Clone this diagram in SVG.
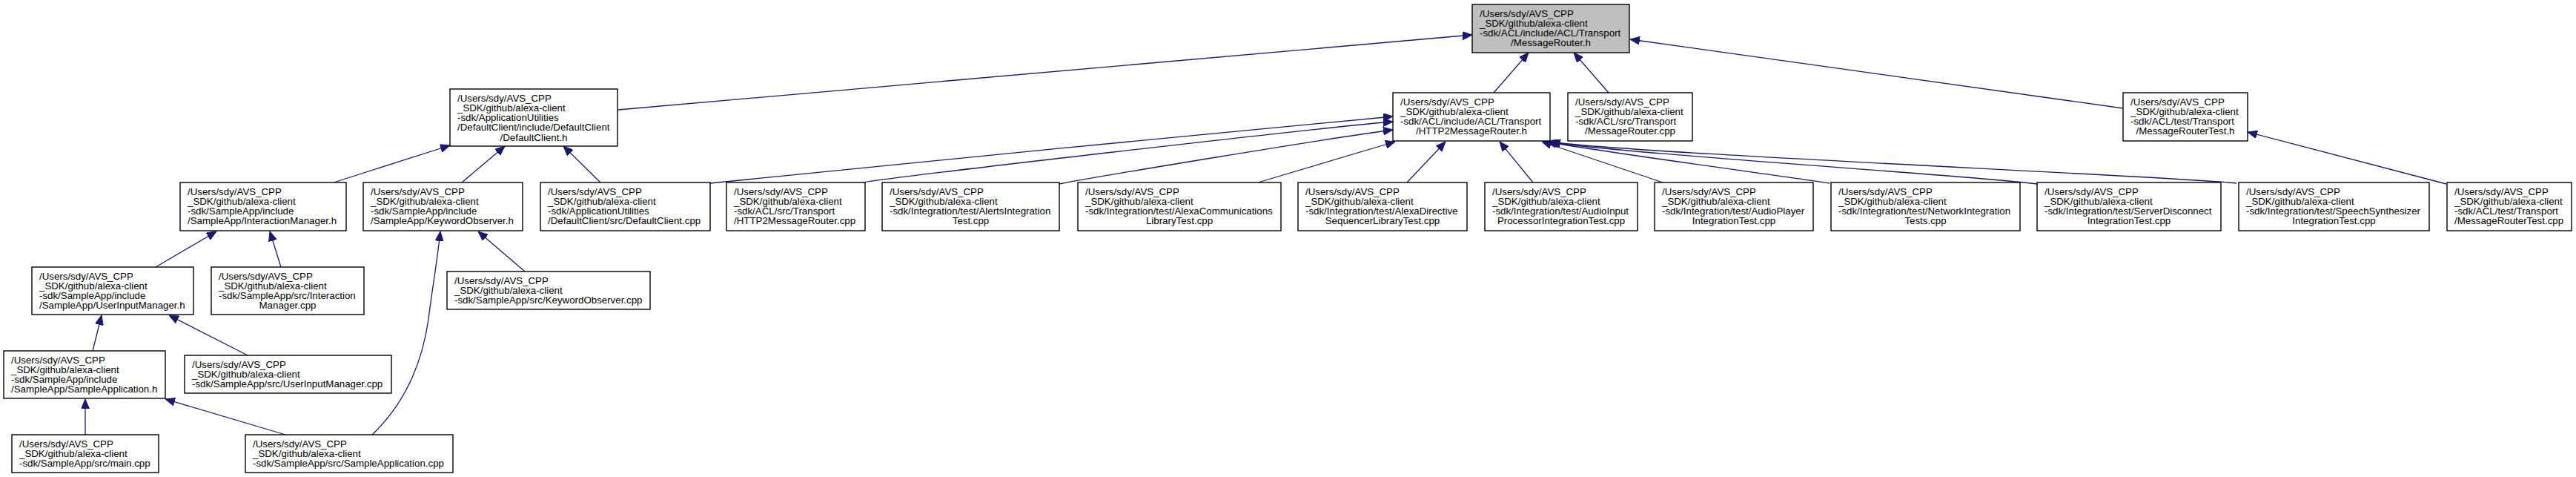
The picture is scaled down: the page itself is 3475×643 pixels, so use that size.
<svg xmlns="http://www.w3.org/2000/svg" width="3475" height="643" viewBox="0 0 3475 643">
<style>
  .box{fill:#ffffff;stroke:#000000;stroke-width:1.4}
  .root{fill:#bfbfbf;stroke:#000000;stroke-width:1.4}
  text{font-family:"Liberation Sans",Arial,Helvetica,sans-serif;font-size:13.3px;fill:#000000}
  .c{text-anchor:middle}
  .e{fill:none;stroke:#191970;stroke-width:1.3;marker-end:url(#ah)}
</style>
<defs>
  <marker id="ah" viewBox="0 0 13 11" refX="13" refY="5.5" markerWidth="13" markerHeight="11" markerUnits="userSpaceOnUse" orient="auto">
    <path d="M0,0 L13,5.5 L0,11 z" fill="#191970" stroke="#191970" stroke-width="1"/>
  </marker>
</defs>
<rect width="3475" height="643" fill="#ffffff"/>

<g id="edges">
  <path class="e" d="M834,148 L1986,47"/>
  <path class="e" d="M2015,125 L2062,71"/>
  <path class="e" d="M2170,125 L2123,71"/>
  <path class="e" d="M2864,146 L2199,53"/>
  <path class="e" d="M3300,248 L3032,178"/>
  <path class="e" d="M450,246 L607,196"/>
  <path class="e" d="M623,246 L681,197"/>
  <path class="e" d="M810,246 L760,197"/>
  <path class="e" d="M958,247 C1000,241 1780,166 1879,157"/>
  <path class="e" d="M1164,246 C1210,238 1780,172 1879,164"/>
  <path class="e" d="M1429,248 C1480,238 1800,185 1879,175"/>
  <path class="e" d="M1697,246 L1882,191"/>
  <path class="e" d="M1898,246 L1950,191"/>
  <path class="e" d="M2068,246 L2023,191"/>
  <path class="e" d="M2243,246 L2080,191"/>
  <path class="e" d="M2468,247 C2420,239 2160,205 2086,191"/>
  <path class="e" d="M2748,248 C2680,238 2170,206 2089,191"/>
  <path class="e" d="M3017,247 C2940,238 2180,206 2092,191"/>
  <path class="e" d="M210,360 L292,312"/>
  <path class="e" d="M379,360 L364,312"/>
  <path class="e" d="M708,366 L645,312"/>
  <path class="e" d="M502,586 C548,542 570,487 578,430 C583,390 590,350 594,312"/>
  <path class="e" d="M125,473 L137,425"/>
  <path class="e" d="M334,479 L228,425"/>
  <path class="e" d="M115,586 L115,538"/>
  <path class="e" d="M385,586 L223,538"/>
</g>

<g id="n0">
  <rect class="root" x="1986" y="6" width="212" height="65"/>
  <text><tspan x="1996" y="22.5">/Users/sdy/AVS_CPP</tspan><tspan x="1996" y="35.8">_SDK/github/alexa-client</tspan><tspan x="1996" y="49.1">-sdk/ACL/include/ACL/Transport</tspan><tspan class="c" x="2092" y="62.4">/MessageRouter.h</tspan></text>
</g>
<g id="n1">
  <rect class="box" x="607" y="120" width="226" height="77"/>
  <text><tspan x="617" y="136.5">/Users/sdy/AVS_CPP</tspan><tspan x="617" y="149.8">_SDK/github/alexa-client</tspan><tspan x="617" y="163.1">-sdk/ApplicationUtilities</tspan><tspan x="617" y="176.4">/DefaultClient/include/DefaultClient</tspan><tspan class="c" x="720" y="189.7">/DefaultClient.h</tspan></text>
</g>
<g id="n2">
  <rect class="box" x="1879" y="125" width="212" height="65"/>
  <text><tspan x="1889" y="141.5">/Users/sdy/AVS_CPP</tspan><tspan x="1889" y="154.8">_SDK/github/alexa-client</tspan><tspan x="1889" y="168.1">-sdk/ACL/include/ACL/Transport</tspan><tspan class="c" x="1985" y="181.4">/HTTP2MessageRouter.h</tspan></text>
</g>
<g id="n3">
  <rect class="box" x="2115" y="125" width="168" height="65"/>
  <text><tspan x="2125" y="141.5">/Users/sdy/AVS_CPP</tspan><tspan x="2125" y="154.8">_SDK/github/alexa-client</tspan><tspan x="2125" y="168.1">-sdk/ACL/src/Transport</tspan><tspan class="c" x="2199" y="181.4">/MessageRouter.cpp</tspan></text>
</g>
<g id="n4">
  <rect class="box" x="2864" y="125" width="168" height="65"/>
  <text><tspan x="2874" y="141.5">/Users/sdy/AVS_CPP</tspan><tspan x="2874" y="154.8">_SDK/github/alexa-client</tspan><tspan x="2874" y="168.1">-sdk/ACL/test/Transport</tspan><tspan class="c" x="2948" y="181.4">/MessageRouterTest.h</tspan></text>
</g>

<g id="n5">
  <rect class="box" x="243" y="246" width="224" height="65"/>
  <text><tspan x="253" y="262.5">/Users/sdy/AVS_CPP</tspan><tspan x="253" y="275.8">_SDK/github/alexa-client</tspan><tspan x="253" y="289.1">-sdk/SampleApp/include</tspan><tspan x="253" y="302.4">/SampleApp/InteractionManager.h</tspan></text>
</g>
<g id="n6">
  <rect class="box" x="490" y="246" width="215" height="65"/>
  <text><tspan x="500" y="262.5">/Users/sdy/AVS_CPP</tspan><tspan x="500" y="275.8">_SDK/github/alexa-client</tspan><tspan x="500" y="289.1">-sdk/SampleApp/include</tspan><tspan x="500" y="302.4">/SampleApp/KeywordObserver.h</tspan></text>
</g>
<g id="n7">
  <rect class="box" x="729" y="246" width="229" height="65"/>
  <text><tspan x="739" y="262.5">/Users/sdy/AVS_CPP</tspan><tspan x="739" y="275.8">_SDK/github/alexa-client</tspan><tspan x="739" y="289.1">-sdk/ApplicationUtilities</tspan><tspan x="739" y="302.4">/DefaultClient/src/DefaultClient.cpp</tspan></text>
</g>
<g id="n8">
  <rect class="box" x="980" y="246" width="187" height="65"/>
  <text><tspan x="990" y="262.5">/Users/sdy/AVS_CPP</tspan><tspan x="990" y="275.8">_SDK/github/alexa-client</tspan><tspan x="990" y="289.1">-sdk/ACL/src/Transport</tspan><tspan x="990" y="302.4">/HTTP2MessageRouter.cpp</tspan></text>
</g>
<g id="n9">
  <rect class="box" x="1190" y="246" width="239" height="65"/>
  <text><tspan x="1200" y="262.5">/Users/sdy/AVS_CPP</tspan><tspan x="1200" y="275.8">_SDK/github/alexa-client</tspan><tspan x="1200" y="289.1">-sdk/Integration/test/AlertsIntegration</tspan><tspan class="c" x="1309.5" y="302.4">Test.cpp</tspan></text>
</g>
<g id="n10">
  <rect class="box" x="1454" y="246" width="274" height="65"/>
  <text><tspan x="1464" y="262.5">/Users/sdy/AVS_CPP</tspan><tspan x="1464" y="275.8">_SDK/github/alexa-client</tspan><tspan x="1464" y="289.1">-sdk/Integration/test/AlexaCommunications</tspan><tspan class="c" x="1591" y="302.4">LibraryTest.cpp</tspan></text>
</g>
<g id="n11">
  <rect class="box" x="1751" y="246" width="228" height="65"/>
  <text><tspan x="1761" y="262.5">/Users/sdy/AVS_CPP</tspan><tspan x="1761" y="275.8">_SDK/github/alexa-client</tspan><tspan x="1761" y="289.1">-sdk/Integration/test/AlexaDirective</tspan><tspan class="c" x="1865" y="302.4">SequencerLibraryTest.cpp</tspan></text>
</g>
<g id="n12">
  <rect class="box" x="2003" y="246" width="206" height="65"/>
  <text><tspan x="2013" y="262.5">/Users/sdy/AVS_CPP</tspan><tspan x="2013" y="275.8">_SDK/github/alexa-client</tspan><tspan x="2013" y="289.1">-sdk/Integration/test/AudioInput</tspan><tspan class="c" x="2106" y="302.4">ProcessorIntegrationTest.cpp</tspan></text>
</g>
<g id="n13">
  <rect class="box" x="2232" y="246" width="214" height="65"/>
  <text><tspan x="2242" y="262.5">/Users/sdy/AVS_CPP</tspan><tspan x="2242" y="275.8">_SDK/github/alexa-client</tspan><tspan x="2242" y="289.1">-sdk/Integration/test/AudioPlayer</tspan><tspan class="c" x="2339" y="302.4">IntegrationTest.cpp</tspan></text>
</g>
<g id="n14">
  <rect class="box" x="2470" y="246" width="255" height="65"/>
  <text><tspan x="2480" y="262.5">/Users/sdy/AVS_CPP</tspan><tspan x="2480" y="275.8">_SDK/github/alexa-client</tspan><tspan x="2480" y="289.1">-sdk/Integration/test/NetworkIntegration</tspan><tspan class="c" x="2597.5" y="302.4">Tests.cpp</tspan></text>
</g>
<g id="n15">
  <rect class="box" x="2748" y="246" width="248" height="65"/>
  <text><tspan x="2758" y="262.5">/Users/sdy/AVS_CPP</tspan><tspan x="2758" y="275.8">_SDK/github/alexa-client</tspan><tspan x="2758" y="289.1">-sdk/Integration/test/ServerDisconnect</tspan><tspan class="c" x="2872" y="302.4">IntegrationTest.cpp</tspan></text>
</g>
<g id="n16">
  <rect class="box" x="3020" y="246" width="257" height="65"/>
  <text><tspan x="3030" y="262.5">/Users/sdy/AVS_CPP</tspan><tspan x="3030" y="275.8">_SDK/github/alexa-client</tspan><tspan x="3030" y="289.1">-sdk/Integration/test/SpeechSynthesizer</tspan><tspan class="c" x="3148.5" y="302.4">IntegrationTest.cpp</tspan></text>
</g>
<g id="n17">
  <rect class="box" x="3301" y="246" width="168" height="65"/>
  <text><tspan x="3311" y="262.5">/Users/sdy/AVS_CPP</tspan><tspan x="3311" y="275.8">_SDK/github/alexa-client</tspan><tspan x="3311" y="289.1">-sdk/ACL/test/Transport</tspan><tspan x="3311" y="302.4">/MessageRouterTest.cpp</tspan></text>
</g>

<g id="n18">
  <rect class="box" x="43" y="360" width="218" height="64"/>
  <text><tspan x="53" y="376.5">/Users/sdy/AVS_CPP</tspan><tspan x="53" y="389.8">_SDK/github/alexa-client</tspan><tspan x="53" y="403.1">-sdk/SampleApp/include</tspan><tspan x="53" y="416.4">/SampleApp/UserInputManager.h</tspan></text>
</g>
<g id="n19">
  <rect class="box" x="285" y="360" width="206" height="64"/>
  <text><tspan x="295" y="376.5">/Users/sdy/AVS_CPP</tspan><tspan x="295" y="389.8">_SDK/github/alexa-client</tspan><tspan x="295" y="403.1">-sdk/SampleApp/src/Interaction</tspan><tspan class="c" x="388" y="416.4">Manager.cpp</tspan></text>
</g>
<g id="n20">
  <rect class="box" x="603" y="366" width="274" height="51"/>
  <text><tspan x="613" y="382.5">/Users/sdy/AVS_CPP</tspan><tspan x="613" y="395.8">_SDK/github/alexa-client</tspan><tspan x="613" y="409.1">-sdk/SampleApp/src/KeywordObserver.cpp</tspan></text>
</g>

<g id="n21">
  <rect class="box" x="5" y="473" width="218" height="64"/>
  <text><tspan x="15" y="489.5">/Users/sdy/AVS_CPP</tspan><tspan x="15" y="502.8">_SDK/github/alexa-client</tspan><tspan x="15" y="516.1">-sdk/SampleApp/include</tspan><tspan x="15" y="529.4">/SampleApp/SampleApplication.h</tspan></text>
</g>
<g id="n22">
  <rect class="box" x="249" y="479" width="279" height="51"/>
  <text><tspan x="259" y="495.5">/Users/sdy/AVS_CPP</tspan><tspan x="259" y="508.8">_SDK/github/alexa-client</tspan><tspan x="259" y="522.1">-sdk/SampleApp/src/UserInputManager.cpp</tspan></text>
</g>

<g id="n23">
  <rect class="box" x="16" y="586" width="198" height="51"/>
  <text><tspan x="26" y="602.5">/Users/sdy/AVS_CPP</tspan><tspan x="26" y="615.8">_SDK/github/alexa-client</tspan><tspan x="26" y="629.1">-sdk/SampleApp/src/main.cpp</tspan></text>
</g>
<g id="n24">
  <rect class="box" x="331" y="586" width="280" height="51"/>
  <text><tspan x="341" y="602.5">/Users/sdy/AVS_CPP</tspan><tspan x="341" y="615.8">_SDK/github/alexa-client</tspan><tspan x="341" y="629.1">-sdk/SampleApp/src/SampleApplication.cpp</tspan></text>
</g>
</svg>
